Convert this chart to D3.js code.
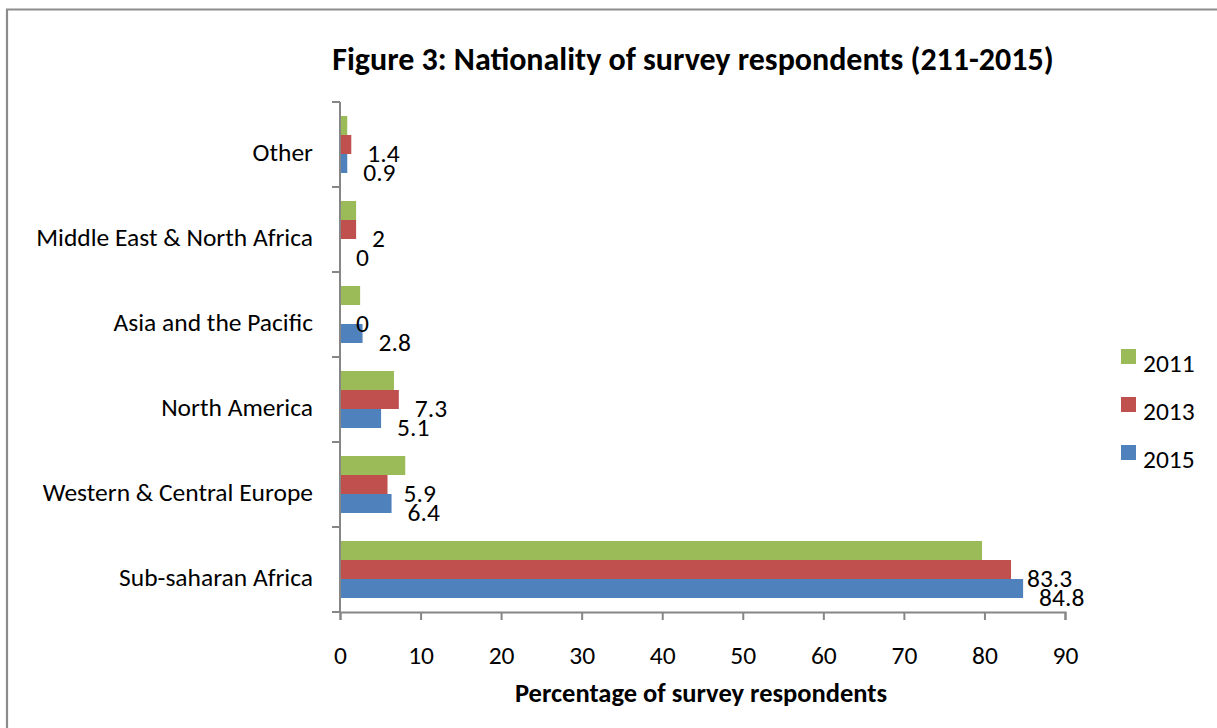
<!DOCTYPE html>
<html>
<head>
<meta charset="utf-8">
<script src="https://cdn.jsdelivr.net/npm/d3@7/dist/d3.min.js"></script>
<style>
  html, body { margin: 0; padding: 0; background: #fff; }
  svg { display: block; }
  text { font-family: Carlito, Calibri, Lato, "Open Sans", sans-serif; fill: #000; }
</style>
</head>
<body>
<svg id="chart" width="1217" height="728"></svg>
<script>
// Regions, listed top to bottom as they appear on the chart
const categories = ["Other", "Middle East & North Africa", "Asia and the Pacific",
                    "North America", "Western & Central Europe", "Sub-saharan Africa"];
const years = ["2011", "2013", "2015"];
const values2011 = [0.9, 2.0, 2.5, 6.7, 8.1, 79.7];
const values2013 = [1.4, 2, 0, 7.3, 5.9, 83.3];
const values2015 = [0.9, 0, 2.8, 5.1, 6.4, 84.8];
const xTicks = [0, 10, 20, 30, 40, 50, 60, 70, 80, 90];
const colors = ["#9BBB59", "#C0504D", "#4F81BD"];
const labelledYears = ["2013", "2015"];

const series = [values2011, values2013, values2015];
const svg = d3.select("#chart");

// chart frame
svg.append("line").attr("x1", 7).attr("x2", 7).attr("y1", 9.5).attr("y2", 728)
  .attr("stroke", "#8c8c8c").attr("stroke-width", 2.2);
svg.append("line").attr("x1", 6).attr("x2", 1217).attr("y1", 9.5).attr("y2", 9.5)
  .attr("stroke", "#8c8c8c").attr("stroke-width", 2);

const x = d3.scaleLinear().domain([0, 90]).range([340, 1065]);
const y = d3.scaleBand().domain(categories).range([102, 612]);
const sub = d3.scaleBand().domain(years).range([0, y.bandwidth()]).paddingInner(0).paddingOuter(0.737);

const fontSize = 25.5;

// bars
const rows = [];
categories.forEach((c, i) => years.forEach((yr, j) => rows.push({ cat: c, year: yr, v: series[j][i], k: j })));

svg.append("g").selectAll("rect").data(rows).join("rect")
  .attr("x", x(0))
  .attr("y", d => y(d.cat) + sub(d.year))
  .attr("width", d => x(d.v) - x(0))
  .attr("height", sub.bandwidth())
  .attr("fill", d => colors[d.k]);

// value labels for 2013 and 2015
svg.append("g").selectAll("text").data(rows.filter(d => labelledYears.includes(d.year))).join("text")
  .attr("x", d => x(d.v) + 16)
  .attr("y", d => y(d.cat) + sub(d.year) + sub.bandwidth() / 2 + 8)
  .attr("dy", "0.36em")
  .attr("font-size", fontSize)
  .text(d => d.v);

// y axis with ticks between categories
const axisColor = "#868686";
const yAxis = svg.append("g");
yAxis.append("line").attr("x1", x(0)).attr("x2", x(0)).attr("y1", 102).attr("y2", 612)
  .attr("stroke", axisColor).attr("stroke-width", 2);
const boundaries = categories.map(c => y(c)).concat([612]);
yAxis.selectAll("line.tick").data(boundaries).join("line").attr("class", "tick")
  .attr("x1", x(0) - 8).attr("x2", x(0)).attr("y1", d => d).attr("y2", d => d)
  .attr("stroke", axisColor).attr("stroke-width", 2);
yAxis.selectAll("text").data(categories).join("text")
  .attr("x", 313).attr("y", d => y(d) + y.bandwidth() / 2 + 7)
  .attr("dy", "0.36em").attr("text-anchor", "end")
  .attr("font-size", fontSize)
  .text(d => d);

// x axis
const xAxis = d3.axisBottom(x).tickValues(xTicks).tickSize(8).tickPadding(26).tickFormat(d3.format("d"));
const gx = svg.append("g").attr("transform", "translate(0,612)").call(xAxis);
gx.select(".domain").attr("stroke", axisColor).attr("stroke-width", 2);
gx.selectAll(".tick line").attr("stroke", axisColor).attr("stroke-width", 2);
gx.selectAll(".tick text").attr("font-size", fontSize).attr("font-family", null).attr("fill", "#000");

// titles
svg.append("text").attr("x", 693).attr("y", 58).attr("dy", "0.36em")
  .attr("text-anchor", "middle").attr("font-size", 32).attr("font-weight", "bold")
  .text("Figure 3: Nationality of survey respondents (211-2015)");
svg.append("text").attr("x", 701).attr("y", 692).attr("dy", "0.36em")
  .attr("text-anchor", "middle").attr("font-size", 26.5).attr("font-weight", "bold")
  .text("Percentage of survey respondents");

// legend
const legend = svg.append("g").selectAll("g").data(years).join("g")
  .attr("transform", (d, i) => `translate(1121,${349 + i * 48})`);
legend.append("rect").attr("width", 15).attr("height", 15).attr("fill", (d, i) => colors[i]);
legend.append("text").attr("x", 22).attr("y", 14).attr("dy", "0.36em")
  .attr("font-size", fontSize).text(d => d);
</script>
</body>
</html>
